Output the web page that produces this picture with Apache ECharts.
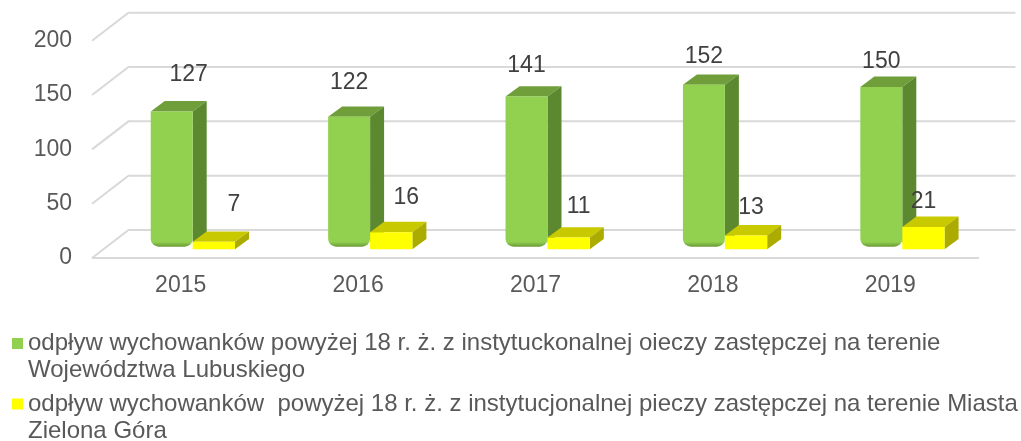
<!DOCTYPE html>
<html>
<head>
<meta charset="utf-8">
<script src="https://cdn.jsdelivr.net/npm/echarts@6/dist/echarts.min.js"></script>
<style>
html, body { margin: 0; padding: 0; background: #fff; }
#chart { width: 1021px; height: 441px; }
</style>
</head>
<body>
<div id="chart"></div>
<script>
const years = ['2015', '2016', '2017', '2018', '2019'];
const lubuskie = [127, 122, 141, 152, 150];
const zielonaGora = [7, 16, 11, 13, 21];
const yTicks = [0, 50, 100, 150, 200];
const seriesNames = [
  'odpływ wychowanków powyżej 18 r. ż. z instytuckonalnej oieczy zastępczej na terenie\nWojewództwa Lubuskiego',
  'odpływ wychowanków  powyżej 18 r. ż. z instytucjonalnej pieczy zastępczej na terenie Miasta\nZielona Góra'
];

const FONT = "'Liberation Sans', Arial, sans-serif";
// fake 3d: depth of floor/back wall and depth of a bar box (px)
const WALL = [36.5, -28];
const BOX = [14, -10.4];
const GRID_COLOR = '#D9D9D9';
const BAR_SCALE = 0.98; // excel draws the bars a touch shorter than the wall

const chart = echarts.init(document.getElementById('chart'));

// walls: diagonal from the front plane to the back wall, then the back line
function gridRenderer(params, api) {
  const cs = params.coordSys;
  const v = api.value(1);
  const y = api.coord([0, v])[1];
  const x0 = cs.x, x1 = cs.x + cs.width;
  const line = { stroke: GRID_COLOR, lineWidth: 2, fill: 'none' };
  const children = [{
    type: 'polyline',
    shape: { points: [[x0, y], [x0 + WALL[0], y + WALL[1]], [x1 + WALL[0], y + WALL[1]]] },
    style: line
  }];
  if (v === 0) {
    children.push({ type: 'line', shape: { x1: x0, y1: y, x2: x1, y2: y }, style: line });
  }
  return { type: 'group', children: children };
}

function barRenderer(c, from, to, lift, rounded, labelDx) {
  return function (params, api) {
    const i = api.value(0), v = api.value(1);
    const band = api.size([1, 0])[0];
    const base = api.coord([i, 0]);
    const peak = api.coord([i, v]);
    const xa = base[0] + band * from, xb = base[0] + band * to;
    const yb = base[1] - lift;
    const yt = yb - (base[1] - peak[1]) * BAR_SCALE;
    const dx = BOX[0], dy = BOX[1];
    const cut = rounded ? 4 : 0;
    const front = rounded
      ? new echarts.graphic.LinearGradient(0, yb - 12, 0, yb, [
          { offset: 0, color: c.front },
          { offset: 0.6, color: c.front },
          { offset: 1, color: c.shade }
        ], true)
      : c.front;
    return {
      type: 'group',
      children: [
        { type: 'polygon', shape: { points: [[xa, yt], [xb, yt], [xb + dx, yt + dy], [xa + dx, yt + dy]] }, style: { fill: c.top } },
        { type: 'polygon', shape: { points: [[xb, yt], [xb + dx, yt + dy], [xb + dx, yb + dy - cut], [xb, yb - cut]] }, style: { fill: c.side } },
        { type: 'rect', shape: { x: xa, y: yt, width: xb - xa, height: yb - yt, r: rounded ? [0, 0, 8, 8] : 0 }, style: { fill: front } },
        {
          type: 'text',
          x: (xa + xb) / 2 + labelDx(i),
          y: yt - (37.3 - 3.1 * i),
          style: { text: String(v), font: '23px ' + FONT, fill: '#404040', align: 'center', verticalAlign: 'middle' }
        }
      ]
    };
  };
}

const option = {
  animation: false,
  backgroundColor: '#fff',
  grid: { left: 92, right: 42, top: 40.7, bottom: 183, outerBoundsMode: 'none' },
  xAxis: {
    type: 'category',
    data: years,
    axisLine: { show: false },
    axisTick: { show: false },
    splitLine: { show: false },
    axisLabel: { color: '#595959', fontSize: 23, fontFamily: FONT, margin: 16 }
  },
  yAxis: {
    type: 'value',
    min: 0,
    max: 200,
    interval: 50,
    axisLine: { show: false },
    axisTick: { show: false },
    splitLine: { show: false },
    axisLabel: { color: '#595959', fontSize: 23, fontFamily: FONT, margin: 20 }
  },
  legend: {
    orient: 'vertical',
    left: 12,
    top: 303,
    height: 200,
    padding: 0,
    itemWidth: 11,
    itemHeight: 11,
    itemGap: -20.5,
    icon: 'rect',
    selectedMode: false,
    data: seriesNames,
    // leading blank line so the icon sits on the first text line
    formatter: name => '\n' + name,
    textStyle: { color: '#595959', fontSize: 24, fontFamily: FONT, lineHeight: 27 }
  },
  series: [
    {
      type: 'custom',
      name: 'grid',
      silent: true,
      z: 1,
      data: yTicks.map(v => [0, v]),
      encode: { x: 0, y: 1 },
      renderItem: gridRenderer
    },
    {
      type: 'custom',
      name: seriesNames[0],
      z: 2,
      itemStyle: { color: '#92D050' },
      data: lubuskie.map((v, i) => [i, v]),
      encode: { x: 0, y: 1 },
      renderItem: barRenderer(
        { front: '#92D050', shade: '#6A9A35', top: '#6F9E3B', side: '#5C8830' },
        -0.169, 0.0676, 11.3, true, i => (i === 0 ? 17 : 0))
    },
    {
      type: 'custom',
      name: seriesNames[1],
      z: 3,
      itemStyle: { color: '#FFFF00' },
      data: zielonaGora.map((v, i) => [i, v]),
      encode: { x: 0, y: 1 },
      renderItem: barRenderer(
        { front: '#FFFF00', top: '#C9C900', side: '#ABAB00' },
        0.0676, 0.306, 8.7, false, i => 20 - 5 * i)
    }
  ]
};

chart.setOption(option);
</script>
</body>
</html>
